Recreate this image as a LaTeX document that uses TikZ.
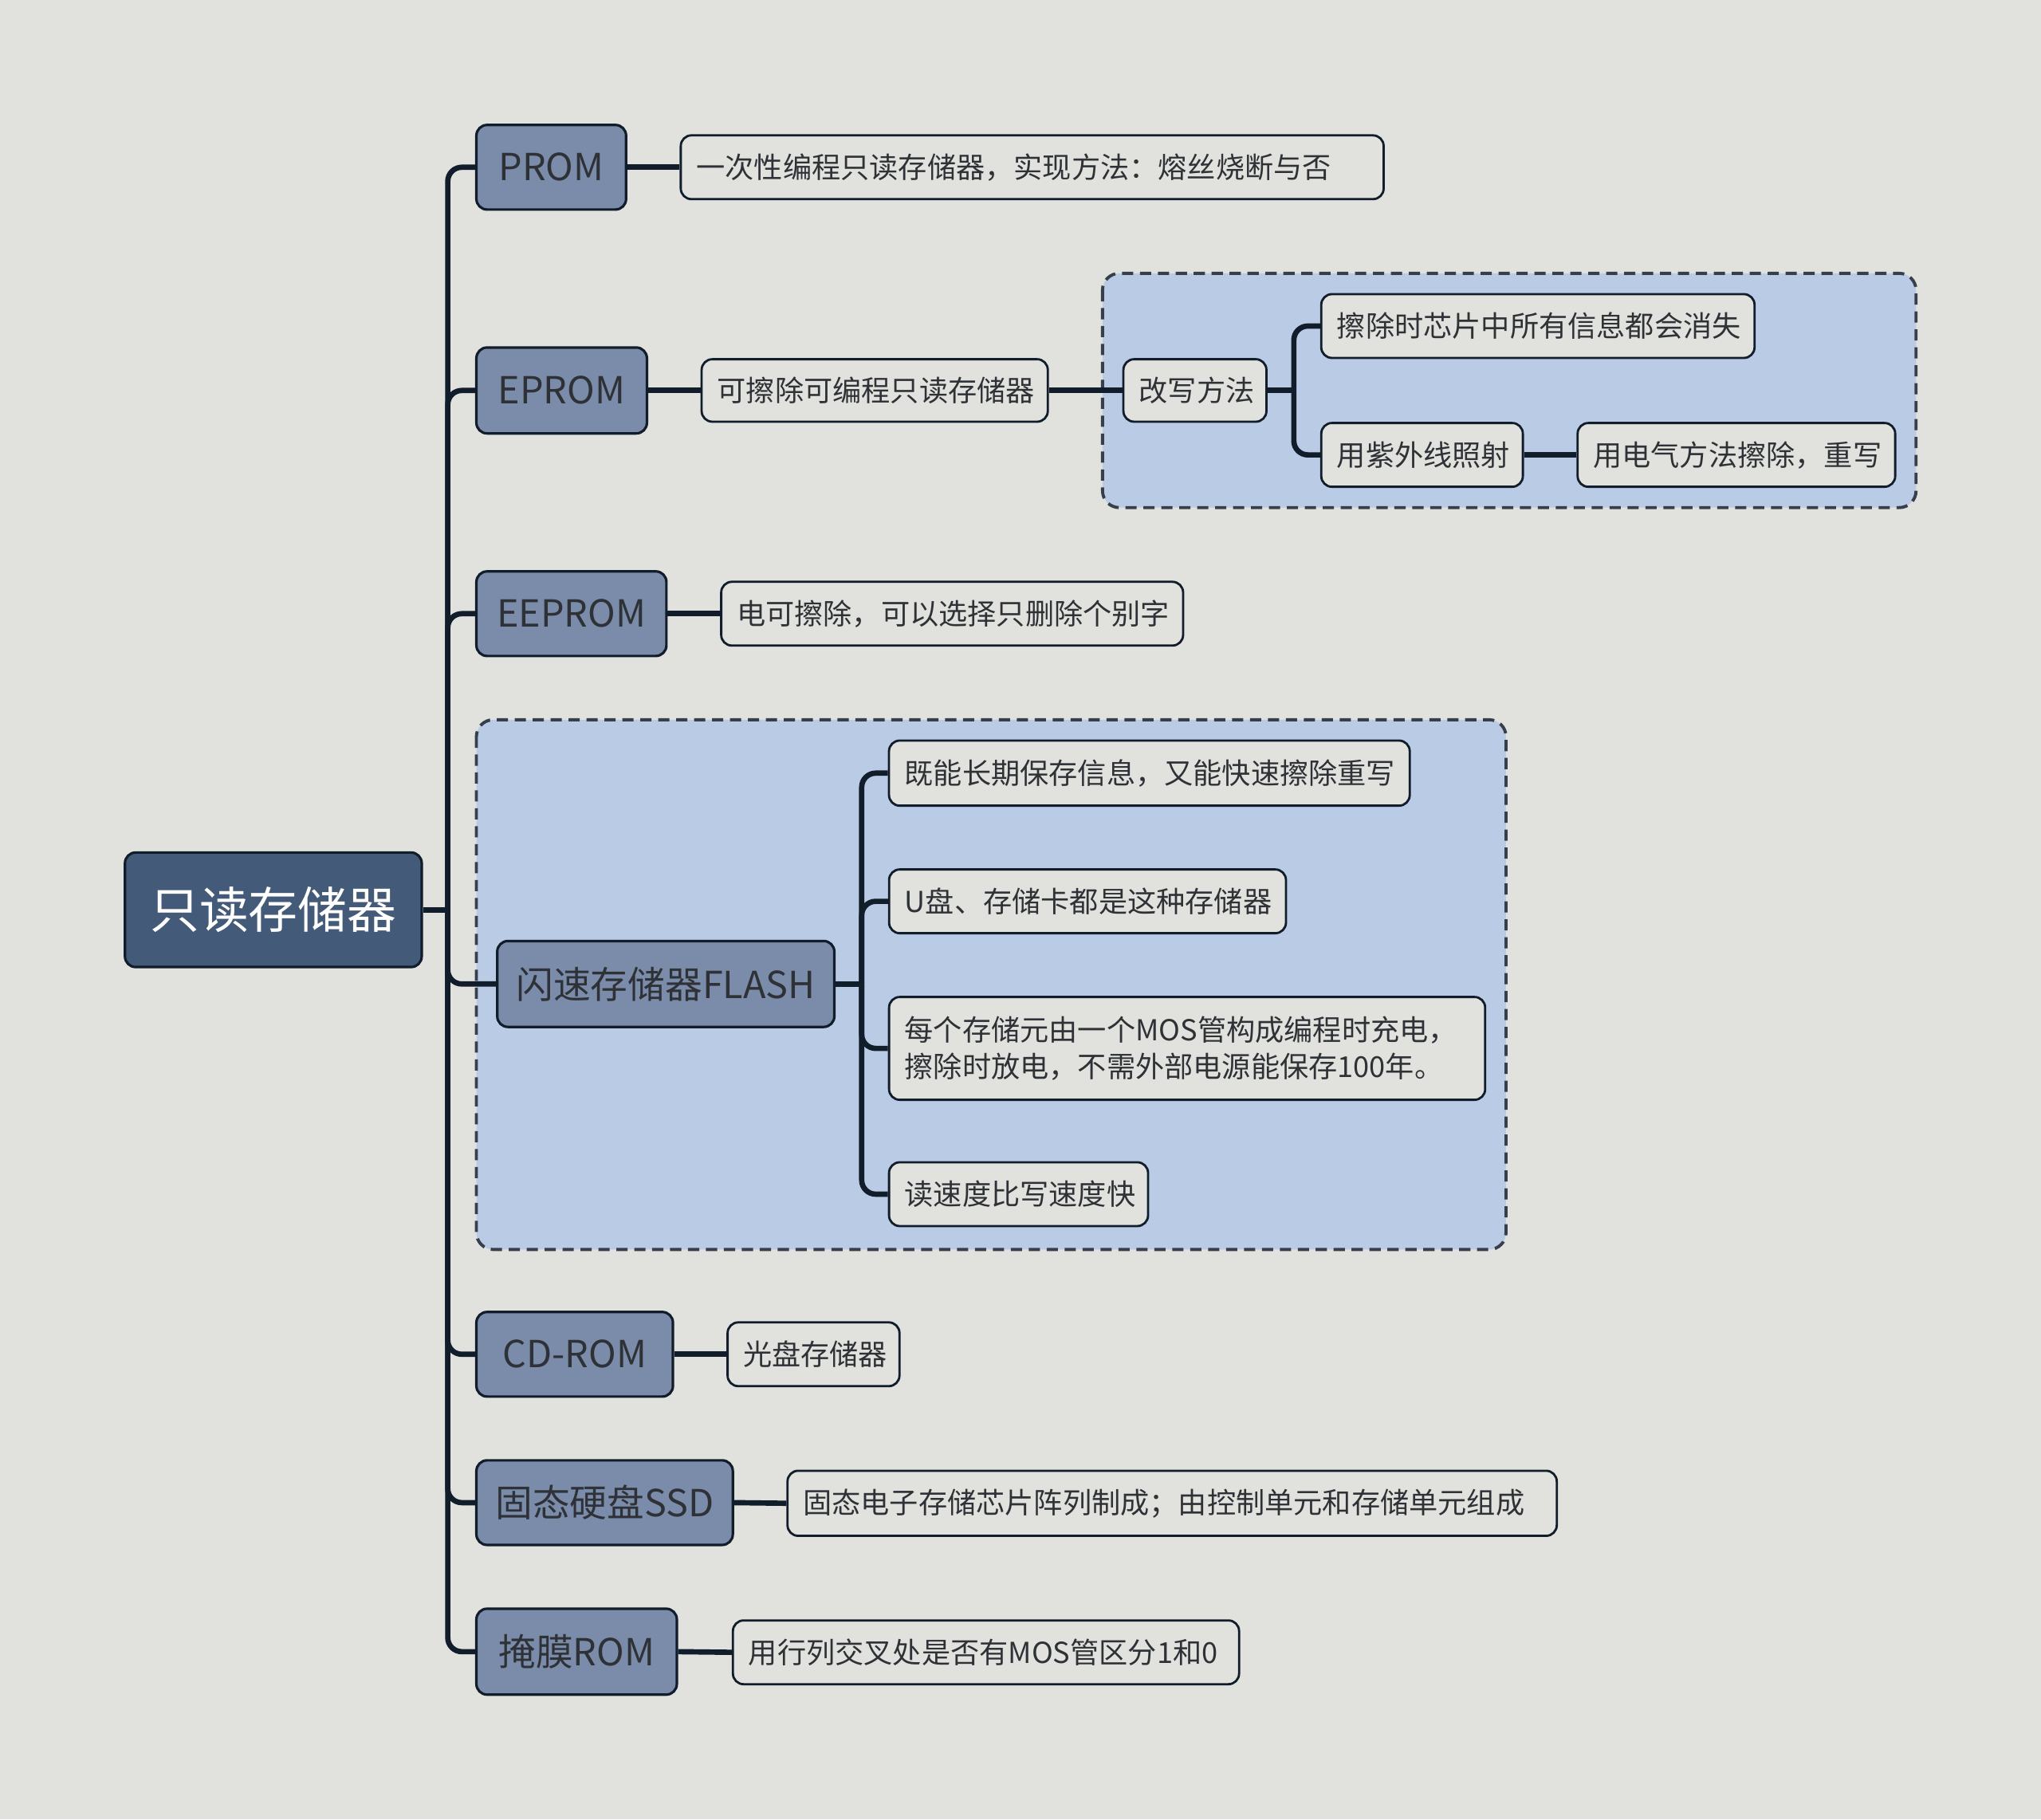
\documentclass[tikz,border=0pt]{standalone}
\usepackage{fontspec}
\setmainfont{Noto Sans CJK SC}
\pgfdeclarelayer{bg}
\pgfdeclarelayer{edges}
\pgfsetlayers{bg,edges,main}
\definecolor{bgc}{HTML}{E1E2DD}
\definecolor{rootc}{HTML}{435A78}
\definecolor{lvc}{HTML}{7A8CAA}
\definecolor{grpc}{HTML}{BACBE5}
\definecolor{edgec}{HTML}{121D2B}
\definecolor{txt}{HTML}{2E3136}
\tikzset{
  base/.style={rounded corners=3.8pt, inner sep=0pt, align=center, text=txt},
  rootbox/.style={base, fill=rootc, draw=edgec, line width=0.9pt, text=white, font=\fontsize{17.6pt}{20pt}\selectfont},
  lvbox/.style={base, fill=lvc, draw=edgec, line width=0.9pt, font=\fontsize{13.3pt}{16pt}\selectfont},
  leafbox/.style={base, fill=bgc, draw=edgec, line width=0.8pt, align=left, inner xsep=5.57pt, font=\fontsize{10.3pt}{13pt}\selectfont},
  bx/.style 2 args={minimum width=#1*0.4645pt, minimum height=#2*0.4645pt},
  lw/.style 2 args={text width=#1, minimum height=#2*0.4645pt},
  edge/.style={draw=edgec, line width=1.9pt, rounded corners=5pt},
  grp/.style={fill=grpc, draw=edgec!85!white, line width=1.1pt, dash pattern=on 4pt off 2.4pt, rounded corners=6pt}
}
\begin{document}
\begin{tikzpicture}[x=0.016327cm, y=-0.016327cm]
\useasboundingbox (0,0) rectangle (1568,1398);
\begin{pgfonlayer}{bg}
  \fill[bgc] (0,0) rectangle (1568,1398);
  \draw[grp] (847,210) rectangle (1472,390);
  \draw[grp] (366,553) rectangle (1157,960);
\end{pgfonlayer}

\node[rootbox, bx={228}{88}] (root) at (210,699) {只读存储器};

\node[lvbox, bx={115}{65}] (prom) at (423.5,128.5) {PROM};
\node[leafbox, lw={239.7pt}{49}] (p1) at (793,128.5) {一次性编程只读存储器，实现方法：熔丝烧断与否};

\node[lvbox, bx={131}{66}] (eprom) at (431.5,300) {EPROM};
\node[leafbox, lw={112.4pt}{48}] (e1) at (672,300) {可擦除可编程只读存储器};
\node[leafbox, lw={39.9pt}{48}] (e2) at (918,300) {改写方法};
\node[leafbox, lw={143.5pt}{49}] (e3) at (1181.5,250.5) {擦除时芯片中所有信息都会消失};
\node[leafbox, lw={60.8pt}{49}] (e4) at (1092.5,349.5) {用紫外线照射};
\node[leafbox, lw={102.2pt}{49}] (e5) at (1334,349.5) {用电气方法擦除，重写};

\node[lvbox, bx={146}{65}] (eeprom) at (439,471.5) {EEPROM};
\node[leafbox, lw={153.7pt}{49}] (ee1) at (731.5,471.5) {电可擦除，可以选择只删除个别字};

\node[lvbox, bx={259}{66}] (flash) at (511.5,756) {闪速存储器FLASH};
\node[leafbox, lw={174.7pt}{50}] (f1) at (883,594) {既能长期保存信息，又能快速擦除重写};
\node[leafbox, lw={130.5pt}{49}] (f2) at (835.5,692.5) {U盘、存储卡都是这种存储器};
\node[leafbox, lw={201.6pt}{79}] (f3) at (912,805.5) {每个存储元由一个MOS管构成编程时充电，\\擦除时放电，不需外部电源能保存100年。};
\node[leafbox, lw={81.3pt}{49}] (f4) at (782.5,917.5) {读速度比写速度快};

\node[lvbox, bx={151}{65}] (cd) at (441.5,1040.5) {CD-ROM};
\node[leafbox, lw={50.2pt}{49}] (cd1) at (625,1040.5) {光盘存储器};

\node[lvbox, bx={197}{65}] (ssd) at (464.5,1154.5) {固态硬盘SSD};
\node[leafbox, lw={263.4pt}{50}] (s1) at (900.5,1155) {固态电子存储芯片阵列制成；由控制单元和存储单元组成};

\node[lvbox, bx={154}{66}] (mask) at (443,1269) {掩膜ROM};
\node[leafbox, lw={169.5pt}{49}] (m1) at (757.5,1269.5) {用行列交叉处是否有MOS管区分1和0};

\coordinate (tr) at (344,699);
\coordinate (ft) at (662,756);
\coordinate (gt) at (994,300);

\begin{pgfonlayer}{edges}
  \draw[edge] (root.east) -- (tr);
  \foreach \n in {prom,eprom,eeprom,flash,cd,ssd,mask}
    \draw[edge] (tr) |- (\n.west);
  \draw[edge] (prom.east) -- (p1.west);
  \draw[edge] (eprom.east) -- (e1.west);
  \draw[edge] (e1.east) -- (e2.west);
  \draw[edge] (e2.east) -- (gt);
  \draw[edge] (gt) |- (e3.west);
  \draw[edge] (gt) |- (e4.west);
  \draw[edge] (e4.east) -- (e5.west);
  \draw[edge] (eeprom.east) -- (ee1.west);
  \draw[edge] (flash.east) -- (ft);
  \foreach \n in {f1,f2,f3,f4}
    \draw[edge] (ft) |- (\n.west);
  \draw[edge] (cd.east) -- (cd1.west);
  \draw[edge] (ssd.east) -- (s1.west);
  \draw[edge] (mask.east) -- (m1.west);
\end{pgfonlayer}
\end{tikzpicture}
\end{document}
